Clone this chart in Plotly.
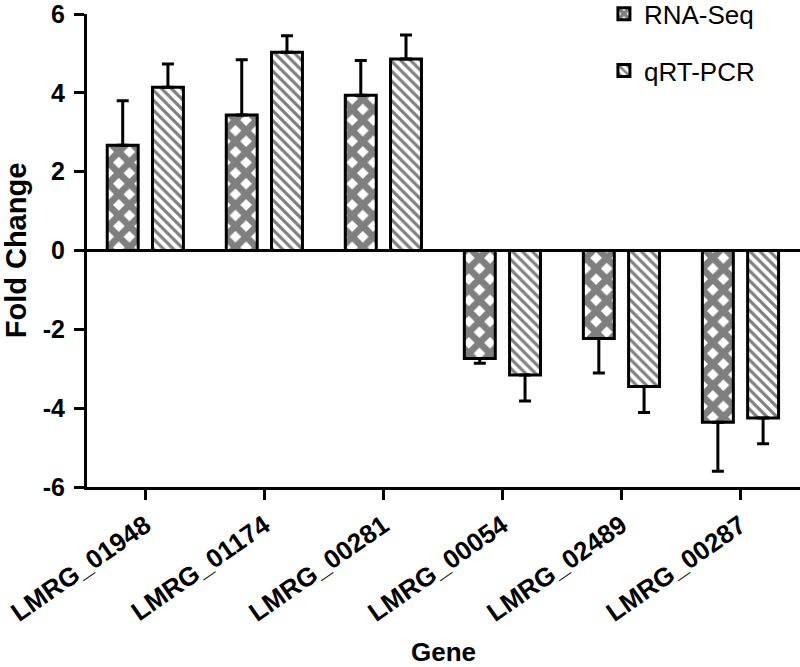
import plotly.graph_objects as go

genes = ["LMRG_01948", "LMRG_01174", "LMRG_00281", "LMRG_00054", "LMRG_02489", "LMRG_00287"]
rna_seq = [2.67, 3.44, 3.94, -2.74, -2.23, -4.36]
rna_seq_err = [1.13, 1.40, 0.88, 0.12, 0.88, 1.24]
qrt_pcr = [4.14, 5.03, 4.86, -3.16, -3.45, -4.25]
qrt_pcr_err = [0.59, 0.42, 0.61, 0.66, 0.66, 0.65]
y_ticks = [-6, -4, -2, 0, 2, 4, 6]
y_tick_labels = [str(v) for v in y_ticks]

FONT = "Arial, Liberation Sans, sans-serif"


def err_parts(vals, errs):
    plus = [e if v >= 0 else 0 for v, e in zip(vals, errs)]
    minus = [e if v < 0 else 0 for v, e in zip(vals, errs)]
    return plus, minus


rp, rm = err_parts(rna_seq, rna_seq_err)
qp, qm = err_parts(qrt_pcr, qrt_pcr_err)

fig = go.Figure()
fig.add_trace(go.Bar(
    x=genes, y=rna_seq, name="RNA-Seq", legendgroup="a",
    width=0.26, offset=-0.32,
    marker=dict(color="white", line=dict(color="black", width=3),
                pattern=dict(shape="x", fgcolor="black", bgcolor="white",
                             size=15, solidity=0.7)),
    error_y=dict(type="data", symmetric=False, array=rp, arrayminus=rm,
                 color="black", thickness=3, width=6),
))
fig.add_trace(go.Bar(
    x=genes, y=qrt_pcr, name="qRT-PCR", legendgroup="b",
    width=0.26, offset=0.06,
    marker=dict(color="white", line=dict(color="black", width=3),
                pattern=dict(shape="\\", fgcolor="black", bgcolor="white",
                             size=7, solidity=0.45)),
    error_y=dict(type="data", symmetric=False, array=qp, arrayminus=qm,
                 color="black", thickness=3, width=6),
))

fig.update_layout(
    width=800, height=667,
    margin=dict(l=87, r=0, t=0, b=180, autoexpand=False),
    paper_bgcolor="white", plot_bgcolor="white",
    barmode="group",
    font=dict(family=FONT, color="black"),
    showlegend=True,
    legend=dict(x=0.725, y=1.02, xanchor="left", yanchor="top",
                bgcolor="rgba(0,0,0,0)", tracegroupgap=20,
                font=dict(family=FONT, size=26, color="black")),
    xaxis=dict(
        type="category", range=[-0.49, 5.5], automargin=False,
        showline=True, linecolor="black", linewidth=3,
        ticks="outside", ticklen=10, tickwidth=3, tickcolor="black",
        tickangle=-35, showgrid=False, zeroline=False,
        ticklabeloverflow="allow",
        tickfont=dict(family=FONT, size=26, color="black", weight="bold"),
        title=dict(text="Gene", standoff=30,
                   font=dict(family=FONT, size=26, color="black", weight="bold")),
    ),
    yaxis=dict(
        domain=[0, 473 / 487], automargin=False,
        range=[-6, 6], tickvals=y_ticks, ticktext=y_tick_labels,
        showline=True, linecolor="black", linewidth=3,
        ticks="outside", ticklen=10, tickwidth=3, tickcolor="black",
        ticklabelstandoff=4, ticklabeloverflow="allow",
        showgrid=False, zeroline=True, zerolinecolor="black", zerolinewidth=3,
        tickfont=dict(family=FONT, size=25, color="black", weight="bold"),
        title=dict(text="Fold Change", standoff=20,
                   font=dict(family=FONT, size=29, color="black", weight="bold")),
    ),
)

fig.write_html("out.html",
               config={"displayModeBar": False},
               post_script="document.body.style.margin='0';document.body.style.overflow='hidden';")
